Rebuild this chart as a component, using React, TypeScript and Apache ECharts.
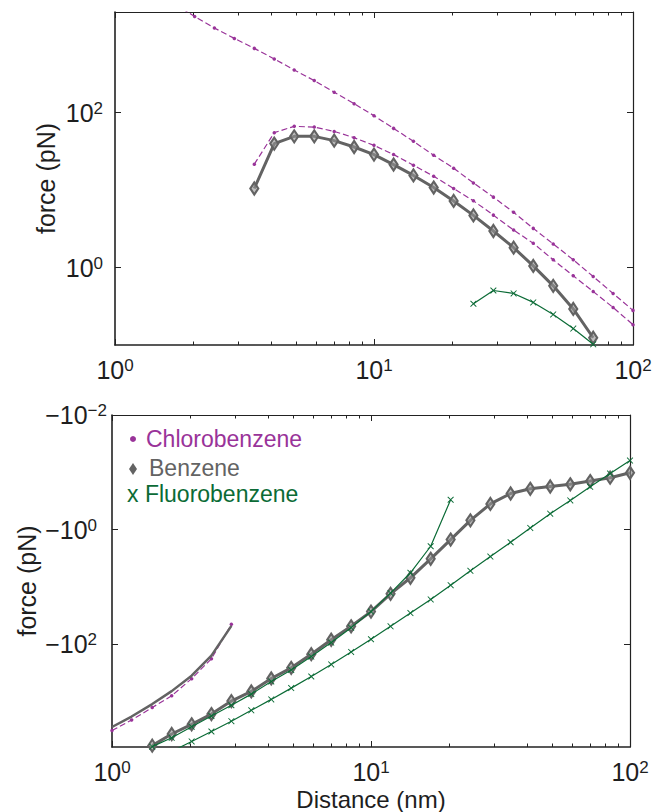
import React, { useEffect, useRef } from 'react';
import * as echarts from 'echarts';

// ---------- DATA ----------
// Top panel (positive / repulsive force, pN) vs distance (nm)
const chloroUpperX = [1.70, 2.03, 2.42, 2.89, 3.45, 4.12, 4.92, 5.88, 7.02, 8.38, 10.0, 11.9, 14.2, 17.0, 20.3, 24.2, 28.9, 34.6, 41.2, 49.2, 58.8, 70.2, 83.8, 100];
const chloroUpperF = [2535, 1750, 1242, 912, 678, 495, 357, 260, 184, 131, 91.5, 62.8, 42.7, 28.2, 19.2, 12.4, 8.13, 5.17, 3.21, 2.02, 1.26, 0.766, 0.463, 0.280];

const chloroLowerX = [3.45, 4.12, 4.92, 5.88, 7.02, 8.38, 10.0, 11.9, 14.2, 17.0, 20.3, 24.2, 28.9, 34.6, 41.2, 49.2, 58.8, 70.2, 83.8, 100];
const chloroLowerF = [21.6, 55.3, 66.7, 65.3, 57.4, 47.6, 37.9, 28.8, 21.0, 15.1, 10.5, 7.28, 4.76, 3.05, 2.06, 1.26, 0.782, 0.491, 0.305, 0.183];

const benzeneTopX = [3.45, 4.12, 4.92, 5.88, 7.02, 8.38, 10.0, 11.9, 14.2, 17.0, 20.3, 24.2, 28.9, 34.6, 41.2, 49.2, 58.8, 70.2];
const benzeneTopF = [10.5, 39.9, 49.5, 49.5, 43.6, 36.1, 28.8, 21.4, 15.5, 10.8, 7.26, 4.72, 2.97, 1.81, 1.05, 0.581, 0.292, 0.124];

const fluoroTopX = [24.2, 28.9, 34.6, 41.2, 49.2, 58.8, 70.2];
const fluoroTopF = [0.341, 0.506, 0.463, 0.355, 0.248, 0.163, 0.102];

// Bottom panel (negative / attractive force, pN)
const chloroBotX = [1.0, 1.19, 1.43, 1.70, 2.03, 2.42, 2.89];
const chloroBotF = [-3194, -2099, -1271, -793, -398, -179, -44.9];

const benzeneShortX = [1.0, 1.19, 1.43, 1.70, 2.03, 2.42, 2.89];
const benzeneShortF = [-2775, -1823, -1105, -657, -353, -158, -47.7];

const benzeneBotX = [1.43, 1.70, 2.03, 2.42, 2.89, 3.45, 4.12, 4.92, 5.88, 7.02, 8.38, 10.0, 11.9, 14.2, 17.0, 20.3, 24.2, 28.9, 34.6, 41.2, 49.2, 58.8, 70.2, 83.8, 100];
const benzeneBotF = [-5870, -3675, -2493, -1650, -980, -665, -395, -258, -149, -83.5, -48.6, -26.9, -13.2, -6.92, -3.23, -1.49, -0.689, -0.356, -0.234, -0.194, -0.177, -0.162, -0.142, -0.124, -0.102];

const fluoroNearX = [1.43, 1.70, 2.03, 2.42, 2.89, 3.45, 4.12, 4.92, 5.88, 7.02, 8.38, 10.0, 11.9, 14.2, 17.0, 20.3];
const fluoroNearF = [-6110, -4280, -2743, -1786, -1159, -741, -445, -280, -164, -93.4, -51.3, -26.9, -12.8, -5.66, -1.95, -0.301];

const fluoroFarX = [1.70, 2.03, 2.42, 2.89, 3.45, 4.12, 4.92, 5.88, 7.02, 8.38, 10.0, 11.9, 14.2, 17.0, 20.3, 24.2, 28.9, 34.6, 41.2, 49.2, 58.8, 70.2, 83.8, 100];
const fluoroFarF = [-7410, -4960, -3325, -2200, -1422, -916, -582, -365, -225, -136, -81.8, -48.6, -28.6, -16.5, -9.3, -5.23, -2.95, -1.66, -0.934, -0.527, -0.309, -0.179, -0.105, -0.0624];

// Axis ticks
const xMajorTicks = [1, 10, 100];
const xMinorTicks = [2, 3, 4, 5, 6, 7, 8, 9, 20, 30, 40, 50, 60, 70, 80, 90];
const yTopTicks = [1, 100];
const yBottomTicks = [0.01, 1, 100]; // magnitudes of -10^-2, -10^0, -10^2

const legendNames = ['Chlorobenzene', 'Benzene', 'Fluorobenzene'];

// ---------- STYLE ----------
const FONT = '"Liberation Sans", Arial, Helvetica, sans-serif';
const TXT = '#1e1e1e';
const AX = '#222222';
const PURPLE = '#993399';
const GRAY = '#636363';
const GREEN = '#0b6b36';
const X_SYMBOL = 'path://M0,1L1,0L5,4L9,0L10,1L6,5L10,9L9,10L5,6L1,10L0,9L4,5Z';

const pairs = (xs: number[], ys: number[]) => xs.map((x, i) => [x, Math.abs(ys[i])]);
const expOf = (v: number) => Math.round(Math.log10(v));

const rich = {
  b: { fontSize: 25, lineHeight: 26, fontFamily: FONT, color: TXT },
  s: { fontSize: 17, lineHeight: 4, verticalAlign: 'top', fontFamily: FONT, color: TXT },
  w: { fontSize: 17, lineHeight: 4, width: 10, fontFamily: FONT, color: TXT },
};

function xAxes(gridIndex: number, name?: string) {
  const base = {
    type: 'log',
    logBase: 10,
    gridIndex,
    min: 1,
    max: 100,
    splitLine: { show: false },
  };
  return [
    {
      ...base,
      position: 'bottom',
      axisLine: { show: true, onZero: false, lineStyle: { color: AX, width: 1.6 } },
      axisTick: { show: true, inside: true, length: 6, customValues: xMajorTicks, lineStyle: { color: AX, width: 1 } },
      axisLabel: {
        show: true,
        customValues: xMajorTicks,
        margin: 12,
        formatter: (v: number) => `{b|10}{s|${expOf(v)}}`,
        rich,
      },
      name: name || '',
      nameLocation: 'middle',
      nameGap: 41,
      nameMoveOverlap: false,
      nameTextStyle: { fontSize: 24, lineHeight: 22, fontFamily: FONT, color: TXT },
    },
    {
      ...base,
      position: 'top',
      axisLine: { show: true, onZero: false, lineStyle: { color: AX, width: 1.2 } },
      axisTick: { show: true, inside: true, length: 6, customValues: xMajorTicks, lineStyle: { color: AX, width: 1 } },
      axisLabel: { show: false },
    },
    {
      ...base,
      position: 'bottom',
      axisLine: { show: false, onZero: false },
      axisTick: { show: true, inside: true, length: 3.5, customValues: xMinorTicks, lineStyle: { color: AX, width: 1 } },
      axisLabel: { show: false },
    },
    {
      ...base,
      position: 'top',
      axisLine: { show: false, onZero: false },
      axisTick: { show: true, inside: true, length: 3.5, customValues: xMinorTicks, lineStyle: { color: AX, width: 1 } },
      axisLabel: { show: false },
    },
  ];
}

function yAxes(gridIndex: number, min: number, max: number, ticks: number[], negative: boolean, margin: number, nameGap: number) {
  const base = {
    type: 'log',
    logBase: 10,
    gridIndex,
    min,
    max,
    inverse: negative,
    splitLine: { show: false },
  };
  return [
    {
      ...base,
      position: 'left',
      axisLine: { show: true, onZero: false, lineStyle: { color: AX, width: 1.6 } },
      axisTick: { show: true, inside: true, length: 6, customValues: ticks, lineStyle: { color: AX, width: 1 } },
      axisLabel: {
        show: true,
        customValues: ticks,
        margin,
        formatter: (v: number) => {
          const e = expOf(v);
          if (!negative) return `{b|10}{s|${e}}`;
          if (e < 0) return `{b|\u221210}{s|\u2212${-e}}`;
          return `{b|\u221210}{s|${e}}{w| }`;
        },
        rich,
      },
      name: 'force (pN)',
      nameLocation: 'middle',
      nameGap,
      nameMoveOverlap: false,
      nameTextStyle: { fontSize: 25, lineHeight: 25, fontFamily: FONT, color: TXT },
    },
    {
      ...base,
      position: 'right',
      axisLine: { show: true, onZero: false, lineStyle: { color: AX, width: 1.2 } },
      axisTick: { show: true, inside: true, length: 6, customValues: ticks, lineStyle: { color: AX, width: 1 } },
      axisLabel: { show: false },
    },
  ];
}

function chloroSeries(name: string, xi: number, yi: number, xs: number[], ys: number[]) {
  return {
    name,
    type: 'line',
    xAxisIndex: xi,
    yAxisIndex: yi,
    data: pairs(xs, ys),
    symbol: 'circle',
    symbolSize: 3.5,
    showSymbol: true,
    itemStyle: { color: PURPLE },
    lineStyle: { color: PURPLE, width: 1.2, type: [6, 3] },
    clip: true,
    z: 2,
  };
}

function benzeneSeries(name: string, xi: number, yi: number, xs: number[], ys: number[]) {
  return {
    name,
    type: 'line',
    xAxisIndex: xi,
    yAxisIndex: yi,
    data: pairs(xs, ys),
    symbol: 'diamond',
    symbolSize: [8, 12],
    showSymbol: true,
    itemStyle: { color: 'rgba(150,150,150,0.6)', borderColor: GRAY, borderWidth: 2.2 },
    lineStyle: { color: GRAY, width: 3 },
    clip: true,
    z: 3,
  };
}

function fluoroSeries(name: string, xi: number, yi: number, xs: number[], ys: number[]) {
  return {
    name,
    type: 'line',
    xAxisIndex: xi,
    yAxisIndex: yi,
    data: pairs(xs, ys),
    symbol: X_SYMBOL,
    symbolSize: 6.5,
    showSymbol: true,
    itemStyle: { color: GREEN },
    lineStyle: { color: GREEN, width: 1.2 },
    clip: true,
    z: 4,
  };
}

export default function App() {
  const ref = useRef<HTMLDivElement>(null);

  useEffect(() => {
    if (!ref.current) return;
    const chart = echarts.init(ref.current, undefined, { renderer: 'svg' });

    const option: any = {
      animation: false,
      backgroundColor: '#ffffff',
      textStyle: { fontFamily: FONT },
      grid: [
        { left: 115, top: 12, width: 518, height: 333, containLabel: false },
        { left: 112, top: 415, width: 518, height: 333, containLabel: false },
      ],
      xAxis: [...xAxes(0), ...xAxes(1, 'Distance (nm)')],
      yAxis: [
        ...yAxes(0, 0.1, 2000, yTopTicks, false, 12, 57),
        ...yAxes(1, 0.01, 6200, yBottomTicks, true, 5, 73),
      ],
      series: [
        chloroSeries(legendNames[0], 0, 0, chloroUpperX, chloroUpperF),
        chloroSeries(legendNames[0] + ' (2)', 0, 0, chloroLowerX, chloroLowerF),
        benzeneSeries(legendNames[1], 0, 0, benzeneTopX, benzeneTopF),
        fluoroSeries(legendNames[2], 0, 0, fluoroTopX, fluoroTopF),
        chloroSeries(legendNames[0] + ' (attr.)', 4, 2, chloroBotX, chloroBotF),
        {
          name: legendNames[1] + ' (short range)',
          type: 'line',
          xAxisIndex: 4,
          yAxisIndex: 2,
          data: pairs(benzeneShortX, benzeneShortF),
          showSymbol: false,
          symbol: 'none',
          lineStyle: { color: GRAY, width: 2.5 },
          clip: true,
          z: 3,
        },
        benzeneSeries(legendNames[1] + ' (attr.)', 4, 2, benzeneBotX, benzeneBotF),
        fluoroSeries(legendNames[2] + ' (attr. 1)', 4, 2, fluoroNearX, fluoroNearF),
        fluoroSeries(legendNames[2] + ' (attr. 2)', 4, 2, fluoroFarX, fluoroFarF),
      ],
      graphic: [
        { type: 'circle', shape: { cx: 133, cy: 439, r: 3 }, style: { fill: PURPLE }, z: 10 },
        {
          type: 'text', x: 146, y: 439,
          style: { text: legendNames[0], fill: PURPLE, font: `23px ${FONT}`, verticalAlign: 'middle', align: 'left' },
          z: 10,
        },
        {
          type: 'polygon',
          shape: { points: [[133, 463], [137, 469], [133, 475], [129, 469]] },
          style: { fill: GRAY },
          z: 10,
        },
        {
          type: 'text', x: 149, y: 468,
          style: { text: legendNames[1], fill: GRAY, font: `23px ${FONT}`, verticalAlign: 'middle', align: 'left' },
          z: 10,
        },
        {
          type: 'text', x: 127, y: 494,
          style: { text: 'x ' + legendNames[2], fill: GREEN, font: `23px ${FONT}`, verticalAlign: 'middle', align: 'left' },
          z: 10,
        },
      ],
    };

    chart.setOption(option);
    return () => chart.dispose();
  }, []);

  return (
    <div
      ref={ref}
      style={{ position: 'absolute', left: 0, top: 0, width: 665, height: 812 }}
    />
  );
}
